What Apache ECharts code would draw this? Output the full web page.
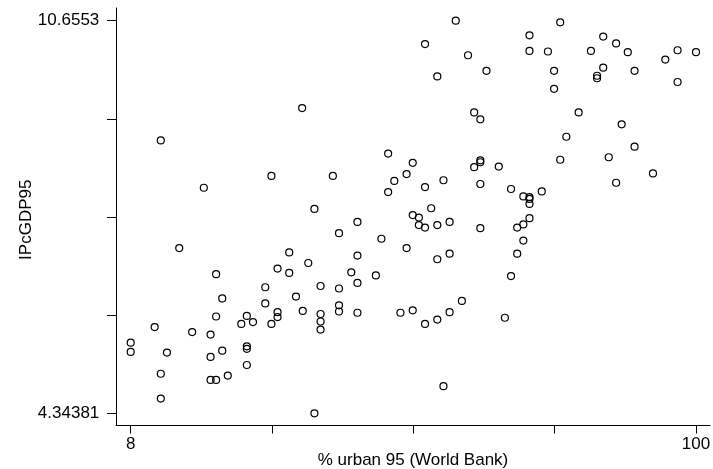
<!DOCTYPE html>
<html>
<head>
<meta charset="utf-8">
<script src="https://cdn.jsdelivr.net/npm/echarts@6/dist/echarts.min.js"></script>
<style>
html,body{margin:0;padding:0;background:#fff;}
#chart{width:713px;height:469px;}
</style>
</head>
<body>
<div id="chart"></div>
<script>
// % urban 95 (World Bank)
const urban95 = [
  60.9, 77.9, 55.9, 72.9, 72.9, 75.9, 62.9, 84.9, 87.0, 82.9,
  88.9, 97.0, 100, 95.0, 65.9, 57.9, 76.9, 84.9, 83.9, 83.9,
  90.0, 97.0, 76.9, 63.9, 64.9, 80.9, 87.9, 78.9, 90.0, 85.8,
  77.9, 53.9, 52.9, 58.9, 55.9, 64.9, 64.9, 63.9, 67.9, 64.9,
  93.0, 87.0, 69.9, 71.9, 72.9, 72.9, 72.9, 74.9, 56.9, 12.9,
  35.9, 19.9, 30.9, 40.9, 49.9, 50.9, 49.9, 37.9, 53.9, 54.9,
  54.9, 55.9, 57.9, 59.9, 64.9, 44.9, 41.9, 48.8, 52.9, 44.9,
  57.9, 59.9, 36.9, 43.9, 47.9, 44.9, 38.9, 41.9, 61.9, 36.0,
  38.9, 38.9, 38.9, 41.9, 41.9, 44.9, 51.9, 53.9, 59.9, 57.9,
  55.9, 68.9, 58.9, 37.9, 15.9, 21.9, 33.8, 31.9, 33.8, 29.9,
  22.9, 34.9, 29.9, 31.9, 31.9, 21.9, 26.9, 26.0, 27.9, 30.9,
  11.9, 18.0, 21.0, 8, 8, 13.9, 22.9, 26.9, 26.9, 21.0,
  26.9, 12.9, 23.8, 21.0, 21.9, 12.9, 72.9, 71.9, 70.9, 71.9,
  70.9, 69.9
];
// IPcGDP95
const lpcgdp95 = [
  10.6553, 10.63, 10.28, 10.42, 10.17, 10.16, 10.10, 10.40, 10.29, 10.17,
  10.15, 10.18, 10.15, 10.03, 9.85, 9.76, 9.85, 9.90, 9.77, 9.73,
  9.85, 9.67, 9.56, 9.18, 9.07, 9.18, 8.99, 8.79, 8.63, 8.46,
  8.42, 8.37, 8.19, 8.09, 7.98, 8.41, 8.38, 8.30, 8.31, 8.03,
  8.20, 8.05, 7.95, 7.83, 7.82, 7.79, 7.71, 7.91, 7.64, 8.73,
  9.25, 7.97, 8.16, 8.16, 8.52, 8.08, 7.90, 7.63, 7.53, 7.49,
  7.37, 7.33, 7.37, 7.42, 7.32, 7.42, 7.24, 7.15, 7.00, 6.88,
  6.82, 6.91, 6.76, 6.61, 6.56, 6.44, 6.39, 6.35, 6.15, 5.99,
  5.94, 5.82, 5.69, 6.08, 5.98, 5.96, 5.96, 6.00, 5.97, 5.85,
  5.78, 5.88, 4.78, 4.34381, 7.00, 6.58, 6.93, 6.67, 6.60, 6.37,
  6.19, 6.22, 6.11, 5.97, 5.89, 5.90, 5.91, 5.78, 5.81, 5.78,
  5.73, 5.65, 5.61, 5.48, 5.33, 5.32, 5.35, 5.42, 5.38, 5.25,
  5.12, 4.98, 4.95, 4.88, 4.88, 4.58, 7.48, 7.38, 7.33, 7.12,
  6.91, 6.55
];
// axis ticks and labels
const xTickValues = [8, 31, 54, 77, 100];
const xLabelValues = [8, 100];
const xLabelTexts = ["8", "100"];
const yTickValues = [4.34381, 5.921678, 7.499555, 9.077433, 10.6553];
const yLabelValues = [4.34381, 10.6553];
const yLabelTexts = ["4.34381", "10.6553"];

const points = urban95.map((x, i) => [x, lpcgdp95[i]]);

const FONT = 'Liberation Sans, Arial, sans-serif';
const chart = echarts.init(document.getElementById('chart'), null, {renderer: 'canvas'});
chart.setOption({
  animation: false,
  backgroundColor: '#ffffff',
  grid: {left: 116, right: 3, top: 8, bottom: 43.5, containLabel: false, outerBoundsMode: 'none'},
  xAxis: {
    type: 'value',
    min: 5.608, max: 102.278,
    name: '% urban 95 (World Bank)',
    nameLocation: 'middle',
    nameGap: 26,
    nameMoveOverlap: false,
    nameTextStyle: {color: '#000', fontSize: 17, fontFamily: FONT},
    axisLine: {show: true, onZero: false, lineStyle: {color: '#000', width: 1}},
    axisTick: {show: true, length: 8, inside: false, customValues: xTickValues, lineStyle: {color: '#000', width: 1}},
    axisLabel: {
      show: true, margin: 10, color: '#000', fontSize: 17, fontFamily: FONT,
      customValues: xLabelValues,
      formatter: v => { const i = xLabelValues.indexOf(v); return i >= 0 ? xLabelTexts[i] : ''; }
    },
    splitLine: {show: false}
  },
  yAxis: {
    type: 'value',
    min: 4.1477, max: 10.8595,
    name: 'IPcGDP95',
    nameLocation: 'middle',
    nameGap: 81,
    nameMoveOverlap: false,
    nameTextStyle: {color: '#000', fontSize: 17, fontFamily: FONT, padding: [0, 6, 0, 0]},
    axisLine: {show: true, onZero: false, lineStyle: {color: '#000', width: 1}},
    axisTick: {show: true, length: 9, inside: false, customValues: yTickValues, lineStyle: {color: '#000', width: 1}},
    axisLabel: {
      show: true, margin: 16.7, color: '#000', fontSize: 17, fontFamily: FONT,
      customValues: yLabelValues,
      formatter: v => { const i = yLabelValues.indexOf(v); return i >= 0 ? yLabelTexts[i] : ''; }
    },
    splitLine: {show: false}
  },
  series: [{
    type: 'scatter',
    data: points,
    symbol: 'circle',
    symbolSize: 7,
    itemStyle: {color: 'rgba(0,0,0,0)', borderColor: '#000', borderWidth: 1.2, opacity: 1},
    emphasis: {disabled: true},
    silent: true
  }]
});
</script>
</body>
</html>
